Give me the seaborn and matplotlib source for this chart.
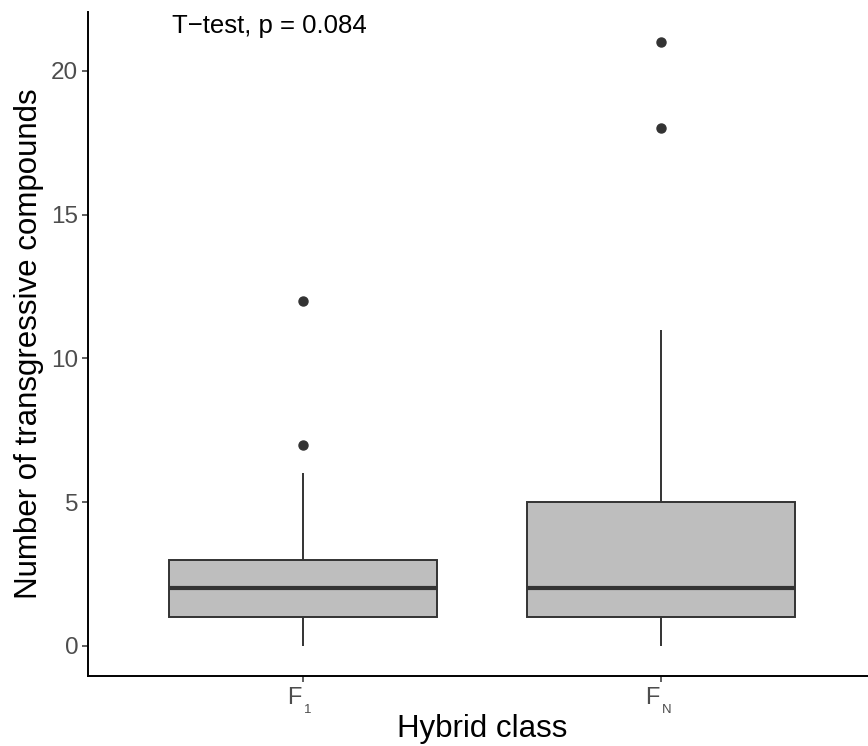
import matplotlib
matplotlib.use("Agg")
import matplotlib.pyplot as plt
from matplotlib.transforms import offset_copy
import seaborn as sns
import pandas as pd

# Data (reconstructed to reproduce the box statistics)
f1_values = [0, 1, 1, 1, 1, 1, 2, 2, 2, 2, 2, 3, 3, 3, 3, 3, 4, 5, 6, 7, 12]
fn_values = [0, 1, 1, 1, 1, 1, 2, 2, 2, 2, 2, 3, 3, 4, 4, 5, 6, 8, 11, 18, 21]
categories = ["F1", "FN"]
tick_main = ["F", "F"]
tick_sub = ["1", "N"]
y_ticks = [0, 5, 10, 15, 20]
annotation = "T\u2212test, p = 0.084"

df = pd.DataFrame({
    "Hybrid class": [categories[0]] * len(f1_values) + [categories[1]] * len(fn_values),
    "count": f1_values + fn_values,
})

sns.set_style("white")
plt.rcParams["font.family"] = ["Liberation Sans", "DejaVu Sans"]

fig = plt.figure(figsize=(8.68, 7.46), dpi=100)
ax = fig.add_axes([88 / 868, 70 / 746, 787.6 / 868, 664 / 746])

edge = "#333333"
sns.boxplot(
    data=df, x="Hybrid class", y="count", order=categories, ax=ax,
    color="#BEBEBE", saturation=1, width=0.75, linecolor=edge, linewidth=1.4,
    showcaps=False, whis=1.5,
    flierprops=dict(marker="o", markerfacecolor=edge, markeredgecolor=edge,
                    markersize=6.5),
    medianprops=dict(color=edge, linewidth=3),
)

ax.set_xlim(-0.6, 1.6)
ax.set_ylim(-1.05, 22.05)
ax.set_yticks(y_ticks)
ax.set_yticklabels([str(v) for v in y_ticks])
ax.set_xticks(range(len(categories)))
ax.set_xticklabels([""] * len(categories))

for s in ["top", "right"]:
    ax.spines[s].set_visible(False)
for s in ["left", "bottom"]:
    ax.spines[s].set_color("black")
    ax.spines[s].set_linewidth(1.4)

ax.tick_params(axis="both", which="major", length=4, width=1.1, color=edge,
               labelsize=17.5, labelcolor="#4D4D4D", pad=3, left=True, bottom=True)

# x tick labels with subscripts (F_1, F_N)
xt = ax.get_xaxis_transform()
for i, (m, s) in enumerate(zip(tick_main, tick_sub)):
    ax.text(i, 0, m, transform=offset_copy(xt, fig=fig, x=-1.5, y=-28, units="dots"),
            ha="right", va="baseline", fontsize=17, color="#4D4D4D", clip_on=False)
    ax.text(i, 0, s, transform=offset_copy(xt, fig=fig, x=1.5, y=-37, units="dots"),
            ha="left", va="baseline", fontsize=9.5, color="#4D4D4D", clip_on=False)

ax.set_xlabel("Hybrid class", fontsize=22.5, color="black")
ax.xaxis.set_label_coords(0.5, -61 / 664)
ax.xaxis.label.set_va("baseline")
ax.set_ylabel("Number of transgressive compounds", fontsize=22.5, color="black", labelpad=5)

ax.text(-0.366, 21.57, annotation, fontsize=18.5, color="black", ha="left", va="center")

fig.savefig("out.png", dpi=100)
